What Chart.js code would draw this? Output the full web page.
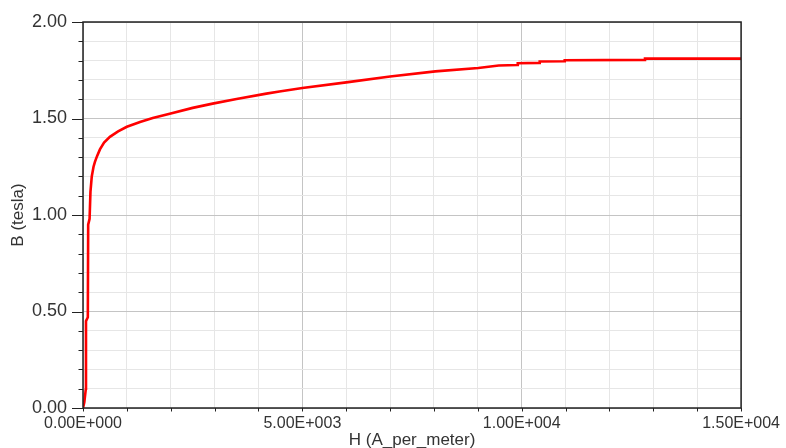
<!DOCTYPE html>
<html>
<head>
<meta charset="utf-8">
<script src="https://cdn.jsdelivr.net/npm/chart.js@4/dist/chart.umd.min.js"></script>
<style>
  html, body { margin: 0; padding: 0; background: #fff; overflow: hidden; }
  #wrap { width: 786px; height: 451px; position: relative; }
</style>
</head>
<body>
<div id="wrap"><canvas id="chart"></canvas></div>
<script>
"use strict";

// B-H curve
const H_values = [0, 30, 65, 68, 110, 118, 150, 170, 200, 240, 272, 320, 386, 480, 613, 800,
                  1000, 1300, 1590, 1977, 2500, 2955, 3500, 4180, 4477, 5000, 6000, 7000,
                  8030, 9010, 9477, 9900, 9910, 10400, 10410, 10970, 10980, 12800, 12810, 15000];
const B_values = [0, 0.03, 0.10, 0.45, 0.47, 0.95, 0.98, 1.12, 1.20, 1.25, 1.275, 1.305, 1.34, 1.375, 1.405, 1.433,
                  1.457, 1.482, 1.502, 1.525, 1.555, 1.577, 1.601, 1.629, 1.64, 1.658, 1.687, 1.718,
                  1.744, 1.762, 1.775, 1.777, 1.786, 1.788, 1.795, 1.797, 1.802, 1.804, 1.81, 1.81];

// axes
const x_min = 0, x_max = 15000, x_step = 1000, x_major = 5000;
const y_min = 0, y_max = 2, y_step = 0.1, y_major = 0.5;
const x_title = 'H (A_per_meter)';
const y_title = 'B (tesla)';

function isMajor(_v, _m) {
  let _r = _v / _m;
  return Math.abs(_r - Math.round(_r)) < 1e-6;
}

let _points = H_values.map(function(_h, _i) { return {x: _h, y: B_values[_i]}; });

// box + tick marks, drawn from the scales
const frame_plugin = {
  id: 'frame',
  afterDraw(chart) {
    let _ctx = chart.ctx;
    let _a = chart.chartArea;
    let _xs = chart.scales.x;
    let _ys = chart.scales.y;
    _ctx.save();
    _ctx.strokeStyle = '#222';
    _ctx.lineWidth = 1;
    _ctx.beginPath();
    _xs.ticks.forEach(function(_t) {
      let _px = Math.round(_xs.getPixelForValue(_t.value)) + 0.5;
      _ctx.moveTo(_px, _a.bottom);
      _ctx.lineTo(_px, _a.bottom + 3.5);
    });
    _ys.ticks.forEach(function(_t) {
      let _py = Math.round(_ys.getPixelForValue(_t.value)) + 0.5;
      let _len = isMajor(_t.value, y_major) ? 11 : 4.5;
      _ctx.moveTo(_a.left - _len, _py);
      _ctx.lineTo(_a.left, _py);
    });
    _ctx.stroke();
    _ctx.lineWidth = 1.5;
    _ctx.strokeRect(_a.left, _a.top, _a.right - _a.left, _a.bottom - _a.top);
    _ctx.restore();
  }
};

new Chart(document.getElementById('chart'), {
  type: 'scatter',
  data: {
    datasets: [{
      data: _points,
      showLine: true,
      borderColor: '#ff0000',
      backgroundColor: '#ff0000',
      borderWidth: 2.6,
      pointRadius: 0,
      tension: 0
    }]
  },
  options: {
    responsive: true,
    maintainAspectRatio: false,
    animation: false,
    layout: { padding: { top: 22, right: 44, left: 0, bottom: 0 } },
    plugins: { legend: { display: false }, tooltip: { enabled: false } },
    scales: {
      x: {
        type: 'linear',
        min: x_min, max: x_max,
        afterFit: function(_s) { _s.height = 43; },
        border: { display: false },
        grid: {
          drawTicks: false,
          lineWidth: 1,
          color: function(_c) { return isMajor(_c.tick.value, x_major) ? '#c4c4c4' : '#e6e6e6'; }
        },
        ticks: {
          stepSize: x_step,
          autoSkip: false,
          maxRotation: 0,
          padding: 6,
          color: '#333',
          font: { family: 'Liberation Sans, Arial, sans-serif', size: 16 },
          callback: function(_v) { return isMajor(_v, x_major) ? Number(_v).toExponential(2).replace(/e([+-])(\d+)/, function(_m, _sg, _d) { return 'E' + _sg + _d.padStart(3, '0'); }) : ''; }
        },
        title: {
          display: true,
          text: x_title,
          color: '#333',
          font: { family: 'Liberation Sans, Arial, sans-serif', size: 17 },
          padding: { top: 0, bottom: 0 }
        }
      },
      y: {
        type: 'linear',
        min: y_min, max: y_max,
        afterFit: function(_s) { _s.width = 83; },
        border: { display: false },
        grid: {
          drawTicks: true,
          tickLength: 12,
          tickColor: 'rgba(0,0,0,0)',
          lineWidth: 1,
          color: function(_c) { return isMajor(_c.tick.value, y_major) ? '#c4c4c4' : '#e6e6e6'; }
        },
        ticks: {
          stepSize: y_step,
          autoSkip: false,
          padding: 4,
          color: '#333',
          font: { family: 'Liberation Sans, Arial, sans-serif', size: 18 },
          callback: function(_v) { return isMajor(_v, y_major) ? Number(_v).toFixed(2) : ''; }
        },
        title: {
          display: true,
          text: y_title,
          color: '#333',
          font: { family: 'Liberation Sans, Arial, sans-serif', size: 17 },
          padding: { top: 8, bottom: 0 }
        }
      }
    }
  },
  plugins: [frame_plugin]
});
</script>
</body>
</html>
